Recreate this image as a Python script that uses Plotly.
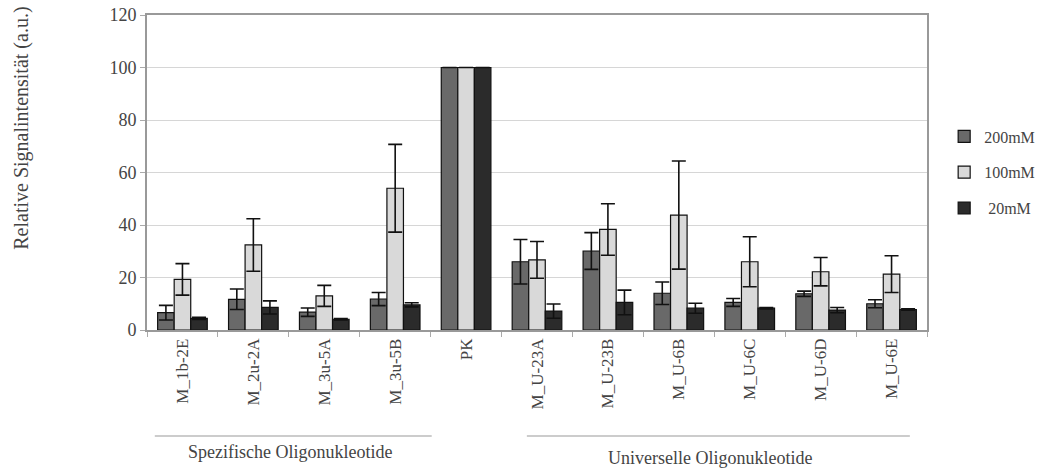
import plotly.graph_objects as go

categories = ["M_1b-2E", "M_2u-2A", "M_3u-5A", "M_3u-5B", "PK",
              "M_U-23A", "M_U-23B", "M_U-6B", "M_U-6C", "M_U-6D", "M_U-6E"]
series_names = ["200mM", "100mM", " 20mM"]
vals_200 = [6.6, 11.7, 6.8, 11.8, 100, 26.0, 30.1, 14.0, 10.5, 13.8, 10.0]
err_200 = [2.8, 3.9, 1.6, 2.5, 0, 8.5, 7.0, 4.3, 1.5, 1.0, 1.5]
vals_100 = [19.3, 32.4, 13.0, 54.0, 100, 26.7, 38.3, 43.8, 26.0, 22.2, 21.3]
err_100 = [6.0, 10.0, 4.0, 16.7, 0, 7.0, 9.8, 20.6, 9.5, 5.4, 7.0]
vals_20 = [4.4, 8.6, 4.1, 9.6, 100, 7.2, 10.5, 8.3, 8.3, 7.6, 7.8]
err_20 = [0.4, 2.5, 0.3, 0.8, 0, 2.7, 4.7, 1.9, 0.3, 1.0, 0.3]
colors = ["#696969", "#d9d9d9", "#2b2b2b"]
group_labels = ["Spezifische Oligonukleotide", "Universelle Oligonukleotide"]

FONT = "Liberation Serif"
TXT = "#444444"

fig = go.Figure()
for i, (name, vals, errs, col) in enumerate(zip(series_names, [vals_200, vals_100, vals_20],
                                 [err_200, err_100, err_20], colors)):
    fig.add_trace(go.Bar(
        x=categories, y=vals, name=name, legendgroup=f"g{i}",
        marker=dict(color=col, line=dict(color="#111111", width=1.2)),
        error_y=dict(type="data", array=errs, visible=True, color="#111111",
                     thickness=1.6, width=7),
    ))

fig.update_layout(
    width=1055, height=470,
    margin=dict(l=147, r=128, t=15, b=140, autoexpand=False),
    barmode="group", bargap=0.3, bargroupgap=0,
    plot_bgcolor="white", paper_bgcolor="white",
    font=dict(family=FONT, size=17, color=TXT),
    showlegend=True,
    legend=dict(x=1.022, y=0.50, xanchor="left", yanchor="middle",
                font=dict(family=FONT, size=16, color=TXT),
                itemwidth=30, tracegroupgap=12, traceorder="grouped",
                bgcolor="rgba(0,0,0,0)"),
    xaxis=dict(
        type="category", tickangle=-90, ticks="outside", tickson="boundaries",
        ticklen=5, tickcolor="#aaaaaa", showgrid=False, automargin=False,
        showline=True, linecolor="#999999", linewidth=1.5, mirror=True,
        tickfont=dict(family=FONT, size=17, color=TXT),
    ),
    yaxis=dict(
        range=[0, 120], dtick=20, ticks="outside", ticklen=5, tickcolor="#aaaaaa",
        showgrid=True, gridcolor="#d6d6d6", gridwidth=1.2, automargin=False,
        showline=True, linecolor="#999999", linewidth=2, mirror=True,
        tickfont=dict(family=FONT, size=18, color=TXT), zeroline=False,
    ),
    annotations=[
        dict(text="Relative Signalintensität (a.u.)", textangle=-90,
             xref="paper", yref="paper", x=-0.162, y=0.641,
             xanchor="center", yanchor="middle", showarrow=False,
             font=dict(family=FONT, size=20, color=TXT)),
        dict(text=group_labels[0], xref="paper", yref="paper",
             x=0.183, y=-0.387, xanchor="center", yanchor="middle",
             showarrow=False, font=dict(family=FONT, size=18, color=TXT)),
        dict(text=group_labels[1], xref="paper", yref="paper",
             x=0.722, y=-0.405, xanchor="center", yanchor="middle",
             showarrow=False, font=dict(family=FONT, size=18, color=TXT)),
    ],
    shapes=[
        dict(type="line", xref="paper", yref="paper", x0=0.010, x1=0.365,
             y0=-0.3365, y1=-0.3365, line=dict(color="#cccccc", width=2)),
        dict(type="line", xref="paper", yref="paper", x0=0.487, x1=0.978,
             y0=-0.3365, y1=-0.3365, line=dict(color="#cccccc", width=2)),
    ],
)

fig.write_html("out.html")
